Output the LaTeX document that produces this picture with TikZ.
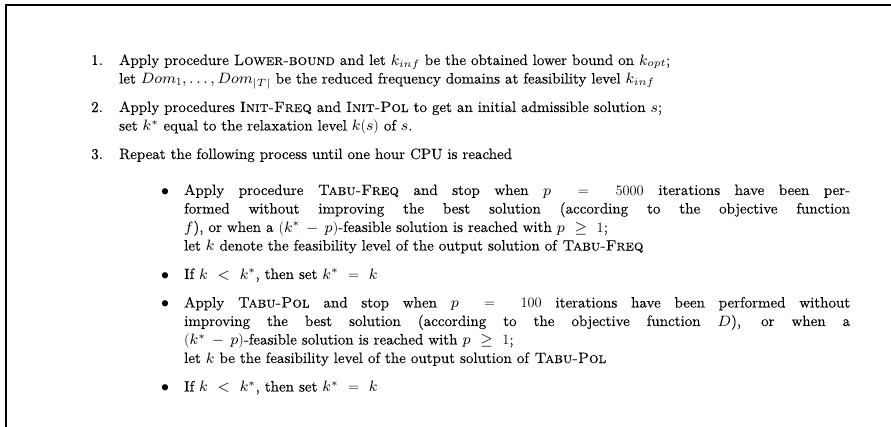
\documentclass[tikz,border=0pt]{standalone}
\usepackage{amsmath}
\usepackage{fontspec}
\setmainfont{lmroman10-regular.otf}[
  FakeBold=0.15,
  ItalicFont=lmroman10-italic.otf,
  BoldFont=lmroman10-bold.otf,
  SmallCapsFont=lmromancaps10-regular.otf,
  SmallCapsFeatures={FakeBold=0.15}]
\DeclareFontShape{OML}{cmm}{m}{it}{<-12>cmmi6 <12->cmmi8}{}
\DeclareFontShape{OMS}{cmsy}{m}{n}{<-12>cmsy6 <12->cmsy8}{}
\thickmuskip=11mu plus 5mu
\medmuskip=7mu plus 2mu minus 4mu
\begin{document}
\begin{tikzpicture}[x=1pt,y=-1pt,
  txt/.style={anchor=base west,inner sep=0pt,font=\fontsize{15}{18}\selectfont},
  frame/.style={line width=2pt,line cap=rect}]
\useasboundingbox (0,0) rectangle (891,426);
\draw[frame] (6,426) -- (6,5) -- (891,5);
% item 1
\node[txt] (n1) at (91,65) {1.};
\node[txt] (i1a) at (119,65) {Apply procedure \textsc{Lower-bound} and let $k_{inf}$ be the obtained lower bound on $k_{opt}$;};
\node[txt] (i1b) at (119,83.5) {let $Dom_1,\ldots,Dom_{|T|}$ be the reduced frequency domains at feasibility level $k_{inf}$};
% item 2
\node[txt] (n2) at (91,112) {2.};
\node[txt] (i2a) at (119,112) {Apply procedures \textsc{Init-Freq} and \textsc{Init-Pol} to get an initial admissible solution $s$;};
\node[txt] (i2b) at (119,130.5) {set $k^*$ equal to the relaxation level $k(s)$ of $s$.};
% item 3
\node[txt] (n3) at (91,159) {3.};
\node[txt] (i3a) at (119,159) {Repeat the following process until one hour CPU is reached};
% bullet 1
\node[txt] (b1) at (161,195) {$\bullet$};
\node[txt] (b1a) at (184,195) {\makebox[666pt][s]{Apply procedure \textsc{Tabu-Freq} and stop when $p=5000$ iterations have been per-}};
\node[txt] (b1b) at (184,213.5) {\makebox[666pt][s]{formed without improving the best solution (according to the objective function}};
\node[txt] (b1c) at (184,232) {$f$), or when a $(k^*-p)$-feasible solution is reached with $p\geq 1$;};
\node[txt] (b1d) at (184,250.5) {let $k$ denote the feasibility level of the output solution of \textsc{Tabu-Freq}};
% bullet 2
\node[txt] (b2) at (161,279) {$\bullet$};
\node[txt] (b2a) at (184,279) {If $k<k^*$, then set $k^*=k$};
% bullet 3
\node[txt] (b3) at (161,307.5) {$\bullet$};
\node[txt] (b3a) at (184,307.5) {\makebox[666pt][s]{Apply \textsc{Tabu-Pol} and stop when $p=100$ iterations have been performed without}};
\node[txt] (b3b) at (184,326) {\makebox[666pt][s]{improving the best solution (according to the objective function $D$), or when a}};
\node[txt] (b3c) at (184,344.5) {$(k^*-p)$-feasible solution is reached with $p\geq 1$;};
\node[txt] (b3d) at (184,363) {let $k$ be the feasibility level of the output solution of \textsc{Tabu-Pol}};
% bullet 4
\node[txt] (b4) at (161,391.5) {$\bullet$};
\node[txt] (b4a) at (184,391.5) {If $k<k^*$, then set $k^*=k$};
\end{tikzpicture}
\end{document}
